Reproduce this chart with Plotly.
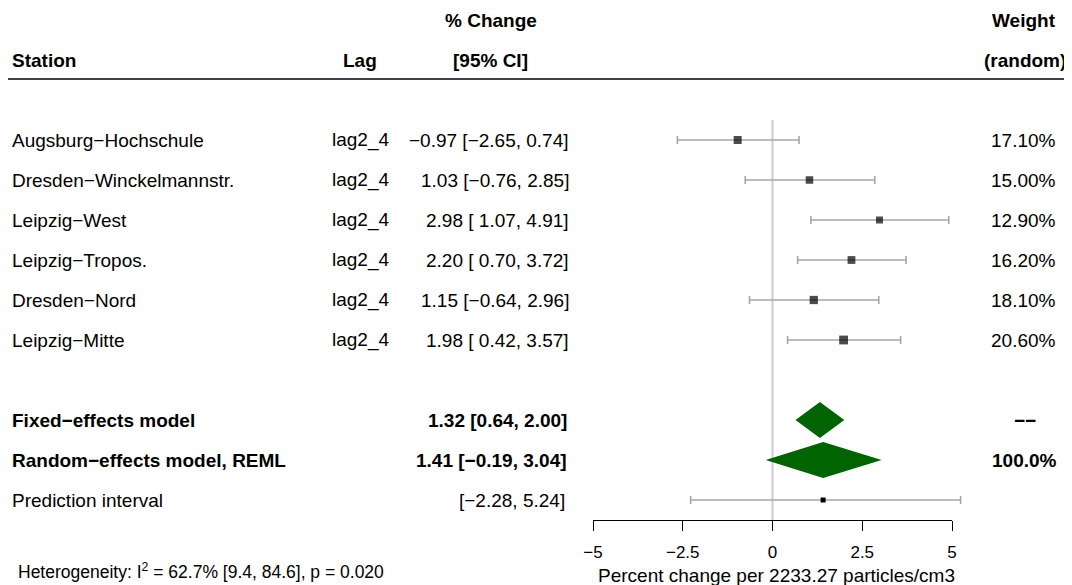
import plotly.graph_objects as go

STATIONS = [
    "Augsburg−Hochschule",
    "Dresden−Winckelmannstr.",
    "Leipzig−West",
    "Leipzig−Tropos.",
    "Dresden−Nord",
    "Leipzig−Mitte",
]
LAGS = ["lag2_4", "lag2_4", "lag2_4", "lag2_4", "lag2_4", "lag2_4"]
ESTIMATES = [-0.97, 1.03, 2.98, 2.20, 1.15, 1.98]
CI_LOWER = [-2.65, -0.76, 1.07, 0.70, -0.64, 0.42]
CI_UPPER = [0.74, 2.85, 4.91, 3.72, 2.96, 3.57]
WEIGHTS = [17.10, 15.00, 12.90, 16.20, 18.10, 20.60]

FIXED = [1.32, 0.64, 2.00]
RANDOM = [1.41, -0.19, 3.04]
PREDICTION = [-2.28, 5.24]
HETEROGENEITY = "Heterogeneity: I<sup>2</sup> = 62.7% [9.4, 84.6], p = 0.020"

TICKS = [-5, -2.5, 0, 2.5, 5]
X_TITLE = "Percent change per 2233.27 particles/cm3"

W, H = 1072, 585
OFF = 8  # page body margin, the figure starts 8px in
FONT = "Arial, 'Liberation Sans', sans-serif"
GREEN = "#006400"
CI_GREY = "#a6a6a6"

# pixel layout of the R forest plot (screen pixels)
PX_PER_ROW = 40
FIRST_ROW_PX = 140
AXIS_LEFT_PX, AXIS_RIGHT_PX = 593, 952
AXIS_PX = 520


def row(px):
    return (px - FIRST_ROW_PX) / PX_PER_ROW


def fmt(v, pad=False):
    s = f"{v:.2f}".replace("-", "−")
    if pad and v >= 0:
        s = " " + s
    return s


scale = (AXIS_RIGHT_PX - AXIS_LEFT_PX) / (TICKS[-1] - TICKS[0])
x_range = [TICKS[0] - (AXIS_LEFT_PX - OFF) / scale, TICKS[-1] + (OFF + W - AXIS_RIGHT_PX) / scale]

n = len(STATIONS)
study_rows = list(range(n))
fixed_row, random_row, pred_row = n + 1, n + 2, n + 3
pad_lower = any(v < 0 for v in CI_LOWER)

fig = go.Figure()


def ci_trace(x, y, lo, hi):
    return go.Scatter(
        x=x,
        y=y,
        mode="markers",
        marker={"size": 0.1, "opacity": 0},
        error_x={
            "type": "data",
            "symmetric": False,
            "array": [h - e for h, e in zip(hi, x)],
            "arrayminus": [e - l for e, l in zip(x, lo)],
            "color": CI_GREY,
            "thickness": 1.6,
            "width": 4,
        },
        hoverinfo="skip",
    )


# study CIs, then squares on top
fig.add_trace(ci_trace(ESTIMATES, study_rows, CI_LOWER, CI_UPPER))
fig.add_trace(
    go.Scatter(
        x=ESTIMATES,
        y=study_rows,
        mode="markers",
        marker={"symbol": "square", "color": "#000000", "size": [8 * (w / 17) ** 0.5 for w in WEIGHTS],
                "line": {"width": 0}},
        hoverinfo="skip",
    )
)

# pooled diamonds
for (est, lo, hi), r in [(FIXED, fixed_row), (RANDOM, random_row)]:
    fig.add_trace(
        go.Scatter(
            x=[lo, est, hi, est, lo],
            y=[r, r - 0.45, r, r + 0.45, r],
            mode="lines",
            fill="toself",
            fillcolor=GREEN,
            line={"width": 0, "color": GREEN},
            hoverinfo="skip",
        )
    )

# prediction interval
fig.add_trace(ci_trace([RANDOM[0]], [pred_row], [PREDICTION[0]], [PREDICTION[1]]))
fig.add_trace(
    go.Scatter(
        x=[RANDOM[0]],
        y=[pred_row],
        mode="markers",
        marker={"symbol": "square", "color": "#000000", "size": 5, "line": {"width": 0}},
        hoverinfo="skip",
    )
)

# carrier trace for the visible axis
fig.add_trace(
    go.Scatter(x=TICKS, y=[row(AXIS_PX)] * len(TICKS), xaxis="x2", mode="markers",
               marker={"opacity": 0}, hoverinfo="skip")
)

ann = []


def text(x_px, r, s, anchor="left", bold=False, size=19):
    ann.append(
        dict(
            x=(x_px - OFF) / W, xref="paper", y=r, yref="y", text=f"<b>{s}</b>" if bold else s,
            xanchor=anchor, yanchor="middle", showarrow=False,
            font={"size": size, "color": "black", "family": FONT},
        )
    )


# headers
text(10, -2, "Station", bold=True)
text(360, -2, "Lag", anchor="center", bold=True)
text(491, -3, "% Change", anchor="center", bold=True)
text(490, -2, "[95% CI]", anchor="center", bold=True)
text(1058, -3, "Weight", anchor="right", bold=True)
text(1068, -2, "(random)", anchor="right", bold=True)

for i in range(n):
    text(10, i, STATIONS[i])
    text(360, i, LAGS[i], anchor="center")
    label = f"{fmt(ESTIMATES[i])} [{fmt(CI_LOWER[i], pad_lower)}, {fmt(CI_UPPER[i])}]"
    text(571, i, label, anchor="right")
    text(1058, i, f"{WEIGHTS[i]:.2f}%", anchor="right")

text(10, fixed_row, "Fixed−effects model", bold=True)
text(569, fixed_row, f"{fmt(FIXED[0])} [{fmt(FIXED[1])}, {fmt(FIXED[2])}]", anchor="right", bold=True)
text(1038, fixed_row, "−−", anchor="right", bold=True)

text(10, random_row, "Random−effects model, REML", bold=True)
text(569, random_row, f"{fmt(RANDOM[0])} [{fmt(RANDOM[1])}, {fmt(RANDOM[2])}]", anchor="right", bold=True)
text(1059, random_row, "100.0%", anchor="right", bold=True)

text(10, pred_row, "Prediction interval")
text(567, pred_row, f"[{fmt(PREDICTION[0])}, {fmt(PREDICTION[1])}]", anchor="right")

text(16, row(571), HETEROGENEITY, size=17.5)

ann.append(
    dict(x=0.1, xref="x2", y=row(575), yref="y", text=X_TITLE, xanchor="center", yanchor="middle",
         showarrow=False, font={"size": 19, "color": "black", "family": FONT})
)

shapes = [
    # header rule
    dict(type="line", xref="paper", yref="y", x0=0, x1=1, y0=row(79), y1=row(79),
         line={"color": "black", "width": 1.5}),
    # no-effect line
    dict(type="line", xref="x", yref="y", x0=0, x1=0, y0=row(120), y1=row(AXIS_PX),
         line={"color": "#cccccc", "width": 2}, layer="below"),
]

fig.update_layout(
    width=W,
    height=H,
    margin={"l": 0, "r": 0, "t": 0, "b": 0, "pad": 0},
    paper_bgcolor="white",
    plot_bgcolor="rgba(0,0,0,0)",
    showlegend=False,
    font={"family": FONT, "color": "black"},
    xaxis={"range": x_range, "domain": [0, 1], "visible": False, "fixedrange": True, "automargin": False},
    xaxis2={
        "range": [TICKS[0], TICKS[-1]],
        "domain": [(AXIS_LEFT_PX - OFF) / W, (AXIS_RIGHT_PX - OFF) / W],
        "anchor": "free",
        "position": 1 - (AXIS_PX - OFF) / H,
        "side": "bottom",
        "showline": True,
        "linecolor": "black",
        "linewidth": 1.3,
        "ticks": "outside",
        "ticklen": 10,
        "tickwidth": 1.3,
        "tickcolor": "black",
        "tickvals": TICKS,
        "ticklabelstandoff": 6,
        "tickfont": {"size": 17, "color": "black", "family": FONT},
        "showgrid": False,
        "zeroline": False,
        "fixedrange": True,
        "automargin": False,
    },
    yaxis={"range": [row(OFF + H), row(OFF)], "domain": [0, 1], "visible": False, "fixedrange": True,
           "automargin": False},
    annotations=ann,
    shapes=shapes,
)

fig.write_html("out.html")
